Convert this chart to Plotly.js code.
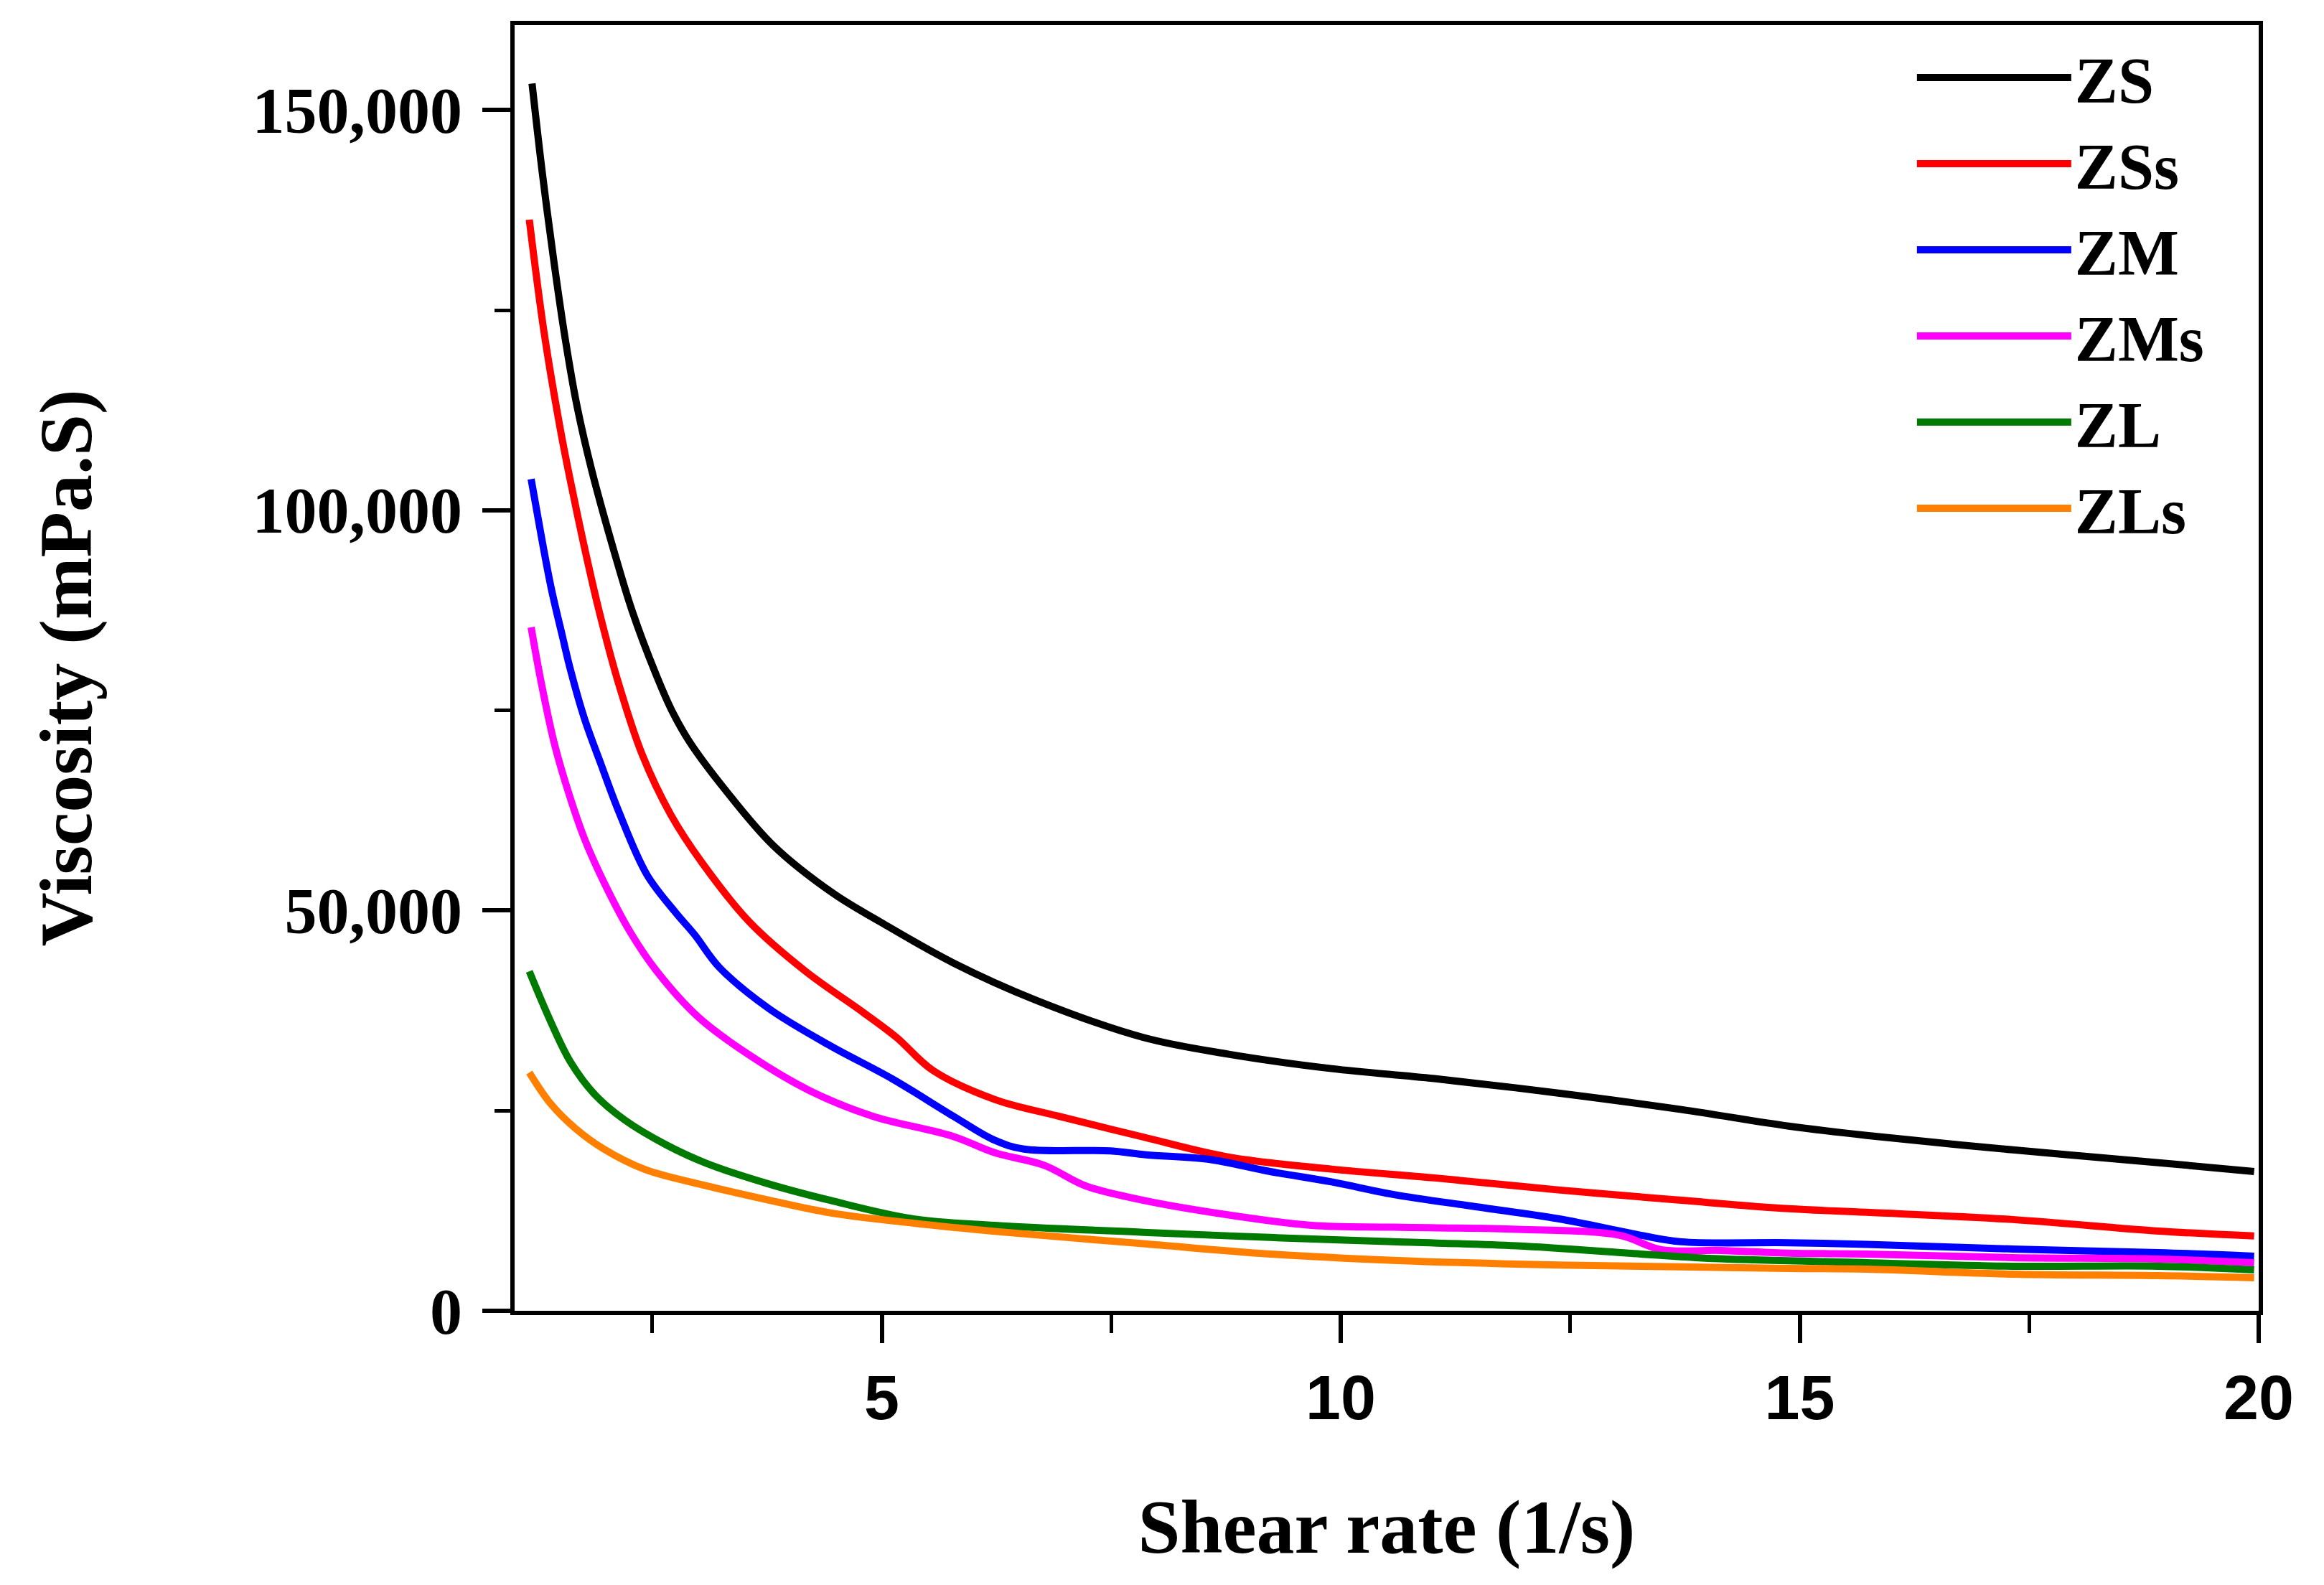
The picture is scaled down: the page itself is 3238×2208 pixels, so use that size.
<!DOCTYPE html>
<html>
<head>
<meta charset="utf-8">
<script src="https://cdn.plot.ly/plotly-3.0.1.min.js"></script>
<style>
  html, body { margin: 0; padding: 0; background: #fff; }
  #chart { width: 3238px; height: 2208px; }
</style>
</head>
<body>
<div id="chart"></div>
<script>
// values (shear rate in 1/s, viscosity in mPa.S)
const zsX = [1.19, 1.30, 1.43, 1.55, 1.68, 1.84, 2.08, 2.28, 2.54, 2.72, 2.91, 3.30, 3.82, 4.47, 4.98, 5.78, 6.68, 7.85, 8.78, 9.90, 11.02, 12.37, 13.71, 14.88, 15.73, 17.32, 18.91, 19.95]
const zsY = [153300, 142300, 130900, 121500, 113000, 105000, 95000, 87440, 79500, 74800, 71000, 65000, 58100, 52150, 48600, 43450, 38800, 34140, 32050, 30250, 29000, 27200, 25140, 23070, 21900, 20100, 18500, 17400]

const zssX = [1.16, 1.32, 1.50, 1.62, 1.76, 1.92, 2.13, 2.39, 2.70, 3.04, 3.56, 4.17, 4.80, 5.16, 5.56, 6.23, 6.91, 7.85, 8.78, 9.90, 11.02, 12.37, 13.71, 14.88, 15.73, 17.32, 18.91, 19.95]
const zssY = [136300, 122300, 110000, 103000, 95400, 87440, 78460, 69480, 62000, 56000, 48550, 42400, 37250, 34150, 30000, 26400, 24350, 21700, 19200, 17700, 16600, 15100, 13800, 12750, 12300, 11400, 9960, 9340]

const zmX = [1.18, 1.29, 1.40, 1.52, 1.61, 1.76, 1.95, 2.13, 2.44, 2.75, 2.96, 3.23, 3.77, 4.44, 5.11, 5.78, 6.23, 6.55, 7.49, 7.88, 8.55, 9.23, 9.90, 10.57, 11.47, 12.37, 13.27, 13.71, 14.88, 15.73, 17.32, 18.91, 19.95]
const zmY = [103900, 96800, 90200, 84300, 80000, 74000, 68000, 62500, 54500, 49800, 47000, 42900, 37750, 33100, 29000, 24300, 21300, 20200, 19970, 19480, 18940, 17400, 16100, 14540, 13000, 11500, 9430, 8620, 8500, 8300, 7720, 7270, 6820]

const zmsX = [1.18, 1.29, 1.43, 1.58, 1.76, 1.97, 2.26, 2.55, 3.00, 3.54, 4.22, 4.89, 5.78, 6.23, 6.77, 7.22, 7.85, 8.78, 9.68, 10.57, 11.92, 13.04, 13.49, 14.13, 14.88, 15.73, 17.32, 18.91, 19.95]
const zmsY = [85370, 78460, 71000, 65000, 59000, 53600, 47300, 42400, 36700, 32080, 27470, 24350, 21770, 19750, 18170, 15600, 13800, 11970, 10680, 10440, 10180, 9430, 7630, 7540, 7200, 7090, 6640, 6460, 6010]

const zlX = [1.16, 1.39, 1.61, 1.88, 2.20, 2.65, 3.09, 3.77, 4.44, 5.34, 6.23, 7.85, 9.23, 10.57, 11.92, 13.27, 14.13, 15.73, 17.32, 18.91, 19.95]
const zlY = [42400, 36200, 31060, 26930, 23830, 20740, 18420, 15840, 13790, 11490, 10680, 9800, 9160, 8620, 8110, 7090, 6490, 6010, 5570, 5570, 5120]

const zlsX = [1.16, 1.39, 1.66, 1.97, 2.42, 3.09, 3.77, 4.44, 5.34, 6.23, 7.85, 9.23, 10.57, 11.92, 13.27, 14.88, 15.73, 17.32, 18.91, 19.95]
const zlsY = [29760, 25900, 22800, 20220, 17650, 15620, 13820, 12230, 10950, 9920, 8380, 7090, 6310, 5830, 5570, 5300, 5200, 4580, 4400, 4130]

const names = ['ZS', 'ZSs', 'ZM', 'ZMs', 'ZL', 'ZLs']
const colors = ['#000000', '#ff0000', '#0000ff', '#ff00ff', '#007a00', '#ff8000']
const xs = [zsX, zssX, zmX, zmsX, zlX, zlsX]
const ys = [zsY, zssY, zmY, zmsY, zlY, zlsY]

const serif = 'Liberation Serif, Times New Roman, serif'
const sans = 'Liberation Sans, Arial, sans-serif'

const data = names.map((name, i) => ({
  x: xs[i],
  y: ys[i],
  name,
  mode: 'lines',
  line: { color: colors[i], width: 10, shape: 'spline', smoothing: 1 },
}))

const layout = {
  width: 3238,
  height: 2208,
  paper_bgcolor: '#ffffff',
  plot_bgcolor: '#ffffff',
  margin: { l: 717, r: 91, t: 35, b: 382 },
  showlegend: true,
  legend: {
    x: 0.802,
    y: 0.9956,
    xanchor: 'left',
    yanchor: 'top',
    bgcolor: 'rgba(0,0,0,0)',
    font: { family: serif, size: 90, color: '#000', weight: 'bold' },
    itemwidth: 215,
    tracegroupgap: 0,
  },
  xaxis: {
    range: [1, 20],
    tick0: 0,
    dtick: 5,
    ticks: 'outside',
    ticklen: 39,
    tickwidth: 6,
    tickcolor: '#000',
    showline: true,
    linecolor: '#000',
    linewidth: 6,
    mirror: true,
    showgrid: false,
    zeroline: false,
    tickfont: { family: sans, size: 88, color: '#000', weight: 'bold' },
    minor: { dtick: 2.5, ticks: 'outside', ticklen: 25, tickwidth: 5, tickcolor: '#000', showgrid: false },
    title: {
      text: 'Shear rate (1/s)',
      font: { family: serif, size: 106, color: '#000', weight: 'bold' },
      standoff: 96,
    },
  },
  yaxis: {
    range: [0, 160600],
    tick0: 0,
    dtick: 50000,
    tickformat: ',d',
    ticks: 'outside',
    ticklen: 39,
    tickwidth: 6,
    tickcolor: '#000',
    ticklabelstandoff: 10,
    showline: true,
    linecolor: '#000',
    linewidth: 6,
    mirror: true,
    showgrid: false,
    zeroline: false,
    tickfont: { family: serif, size: 90, color: '#000', weight: 'bold' },
    minor: { dtick: 25000, ticks: 'outside', ticklen: 22, tickwidth: 5, tickcolor: '#000', showgrid: false },
    title: {
      text: 'Viscosity (mPa.S)',
      font: { family: serif, size: 104, color: '#000', weight: 'bold' },
      standoff: 191,
    },
  },
}

const config = { displayModeBar: false, staticPlot: true }

Plotly.newPlot('chart', data, layout, config)
</script>
</body>
</html>
